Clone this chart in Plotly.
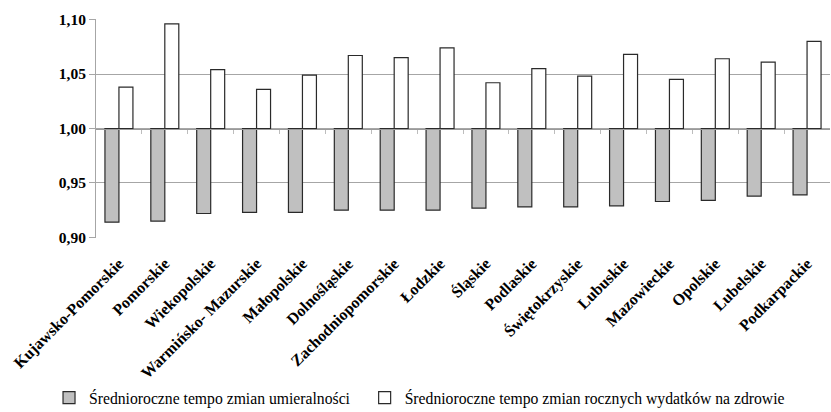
import plotly.graph_objects as go

regions = ["Kujawsko-Pomorskie", "Pomorskie", "Wiekopolskie", "Warmińsko- Mazurskie",
           "Małopolskie", "Dolnośląskie", "Zachodniopomorskie", "Łodzkie", "Śląskie",
           "Podlaskie", "Świętokrzyskie", "Lubuskie", "Mazowieckie", "Opolskie",
           "Lubelskie", "Podkarpackie"]
mortality = [0.914, 0.915, 0.922, 0.923, 0.923, 0.925, 0.925, 0.925, 0.927, 0.928,
             0.928, 0.929, 0.933, 0.934, 0.938, 0.939]
spending = [1.038, 1.096, 1.054, 1.036, 1.049, 1.067, 1.065, 1.074, 1.042, 1.055,
            1.048, 1.068, 1.045, 1.064, 1.061, 1.080]
series_names = ["Średnioroczne tempo zmian umieralności",
                "Średnioroczne tempo zmian rocznych wydatków na zdrowie"]
ytick_vals = [0.90, 0.95, 1.00, 1.05, 1.10]
BASE = 1.0

SERIF = "Liberation Serif"

fig = go.Figure()
fig.add_trace(go.Bar(x=regions, y=[v - BASE for v in mortality], base=BASE,
                     name=series_names[0], legend="legend",
                     marker=dict(color="#c0c0c0", line=dict(color="#2a2a2a", width=1.2))))
fig.add_trace(go.Bar(x=regions, y=[v - BASE for v in spending], base=BASE,
                     name=series_names[1], legend="legend2",
                     marker=dict(color="#ffffff", line=dict(color="#2a2a2a", width=1.2))))
# invisible trace to carry the category-axis line at 1,00
fig.add_trace(go.Scatter(x=[0, len(regions) - 1], y=[BASE, BASE], xaxis="x2",
                         mode="markers", marker=dict(opacity=0), showlegend=False,
                         hoverinfo="skip"))

fig.update_layout(
    width=831, height=412,
    margin=dict(l=96, r=1, t=19, b=174, autoexpand=False),
    paper_bgcolor="white", plot_bgcolor="white",
    separators=", ",
    barmode="group", bargap=0.39, bargroupgap=0,
    font=dict(family=SERIF, color="black"),
    xaxis=dict(type="category", tickangle=-45, showgrid=False, showline=False,
               automargin=False, ticks="outside", ticklen=9, tickcolor="rgba(0,0,0,0)",
               tickfont=dict(family=SERIF, size=16, color="black", weight="bold"),
               range=[-0.5, len(regions) - 0.5]),
    xaxis2=dict(overlaying="x", anchor="free", position=0.5, range=[-0.5, len(regions) - 0.5],
                showline=True, linecolor="#9a9a9a", linewidth=1.2, showgrid=False,
                zeroline=False, showticklabels=False, ticks="outside", ticklen=4,
                tickcolor="#bdbdbd", tickmode="array", automargin=False,
                tickvals=[i + 0.5 for i in range(len(regions) - 1)]),
    yaxis=dict(range=[0.8995, 1.1005], tickvals=ytick_vals, tickformat=".2f",
               showgrid=True, gridcolor="#a6a6a6", gridwidth=1, zeroline=False,
               showline=True, linecolor="#a6a6a6", linewidth=1,
               ticks="outside", ticklen=6, tickcolor="#a6a6a6", automargin=False,
               tickfont=dict(family=SERIF, size=15.5, color="black", weight="bold")),
    legend=dict(orientation="h", x=-0.064, xanchor="left", y=-0.73, yanchor="middle",
                font=dict(family=SERIF, size=15.7, color="black"), bgcolor="rgba(0,0,0,0)"),
    legend2=dict(orientation="h", x=0.366, xanchor="left", y=-0.73, yanchor="middle",
                 font=dict(family=SERIF, size=15.7, color="black"), bgcolor="rgba(0,0,0,0)"),
)

fig.write_html("out.html", config={"displayModeBar": False},
               post_script="document.body.style.margin='0px';document.body.style.overflow='hidden';")
